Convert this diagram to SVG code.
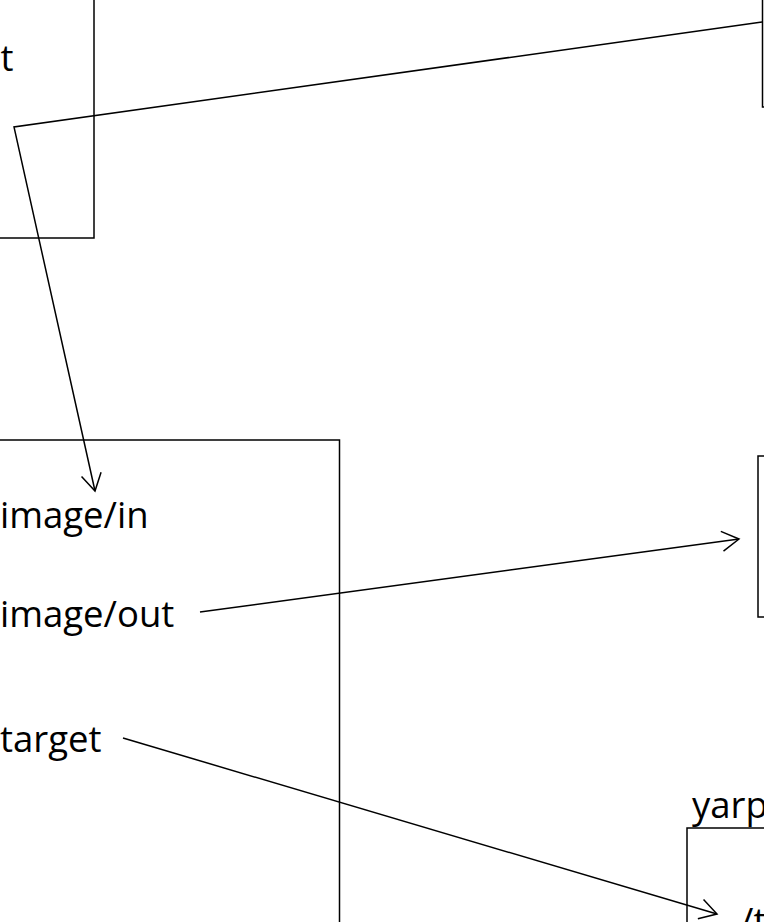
<svg xmlns="http://www.w3.org/2000/svg" width="764" height="922" viewBox="0 0 764 922">
<style>
.box{fill:none;stroke:#000;stroke-width:1.5}
.lbl{font-family:"Open Sans","Liberation Sans",sans-serif;font-size:36.5px;fill:#000}
.conn{fill:none;stroke:#000;stroke-width:1.5}
</style>
<defs>
<marker id="arr" markerUnits="userSpaceOnUse" markerWidth="40" markerHeight="40" refX="0" refY="0" viewBox="-20 -20 40 40" orient="auto" overflow="visible">
<path d="M-17,-10 L0,0 L-17,10" fill="none" stroke="#000" stroke-width="1.5"/>
</marker>
</defs>
<rect width="764" height="922" fill="#fff"/>
<g id="node-topleft">
<rect class="box" x="-20" y="-20" width="114" height="258"/>
<text class="lbl" x="13.5" y="71" text-anchor="end">t</text>
</g>
<g id="node-topright">
<rect class="box" x="762.5" y="-20" width="40" height="127"/>
</g>
<g id="node-main">
<rect class="box" x="-20" y="440" width="359.5" height="520"/>
<text class="lbl" x="0" y="528">image/in</text>
<text class="lbl" x="0" y="627">image/out</text>
<text class="lbl" x="0" y="752">target</text>
</g>
<g id="node-midright">
<rect class="box" x="758" y="456" width="40" height="161"/>
</g>
<g id="node-yarp">
<text class="lbl" x="692" y="818">yarp</text>
<rect class="box" x="687" y="828" width="120" height="140"/>
<text class="lbl" x="740" y="934">/t</text>
</g>
<g id="connectors">
<polyline class="conn" points="762,22 14,127 95,491" marker-end="url(#arr)"/>
<line class="conn" x1="200" y1="612" x2="739" y2="539" marker-end="url(#arr)"/>
<line class="conn" x1="123" y1="738" x2="717" y2="914" marker-end="url(#arr)"/>
</g>
</svg>
